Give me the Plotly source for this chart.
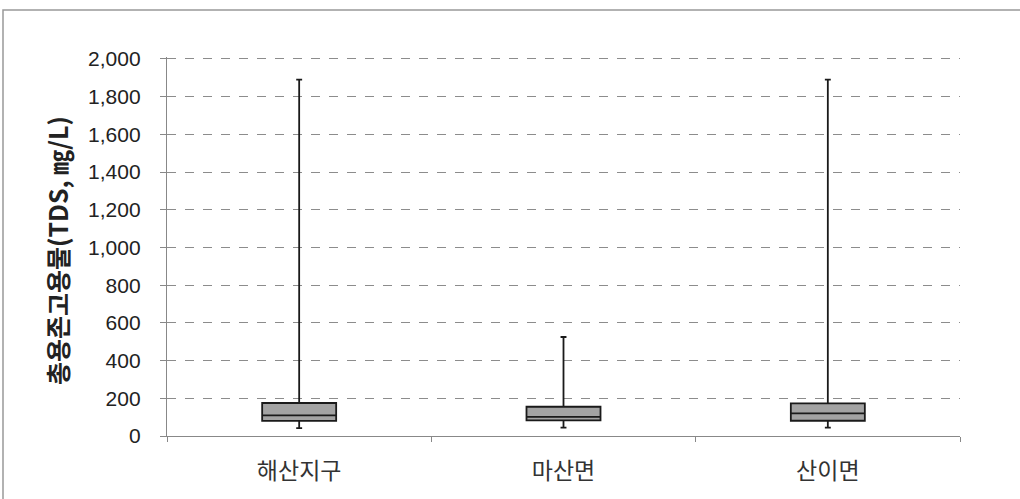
import plotly.graph_objects as go

categories = ["해산지구", "마산면", "산이면"]
q1 = [80, 83, 81]
median = [109, 101, 120]
q3 = [175, 155, 173]
lower = [42, 44, 44]
upper = [1890, 525, 1890]

y_ticks = list(range(0, 2001, 200))
y_ticklabels = [f"{v:,}" for v in y_ticks]
y_title = "총용존고용물(TDS, ㎎/L)"
y_max = 2010

fig = go.Figure()
fig.add_trace(go.Box(
    x=categories, q1=q1, median=median, q3=q3,
    lowerfence=lower, upperfence=upper,
    fillcolor="#a3a3a3",
    line=dict(color="#1a1a1a", width=1.8),
    whiskerwidth=0.08,
    boxpoints=False,
    hoverinfo="skip",
    showlegend=False,
))

W, H = 1020, 499
L, R, B = 167, 60, 63
ph = round((H - B - 59) * y_max / 2000)
T = H - B - ph
pw = W - L - R

def px_to_paper_x(p):
    return (p - L) / pw

def px_to_paper_y(p):
    return (H - B - p) / ph

fig.update_layout(
    width=W, height=H,
    margin=dict(l=L, r=R, t=T, b=B),
    paper_bgcolor="white", plot_bgcolor="white",
    boxgap=0.6,
    font=dict(family="Liberation Sans, Arial, Noto Sans CJK KR", size=20, color="#222"),
    xaxis=dict(
        type="category",
        showline=True, linecolor="#888", linewidth=1.3,
        ticks="outside", tickson="boundaries", ticklen=5, tickcolor="#888",
        showgrid=False,
        ticklabelstandoff=14,
        tickfont=dict(family="Noto Sans CJK KR", size=23, color="#333"),
    ),
    yaxis=dict(
        range=[0, y_max],
        tickvals=y_ticks, ticktext=y_ticklabels,
        showline=True, linecolor="#888", linewidth=1.3,
        ticks="outside", ticklen=6, tickcolor="#888",
        showgrid=True, gridcolor="#8c8c8c", griddash="dash", gridwidth=1,
        zeroline=False,
        ticklabelstandoff=15,
        tickfont=dict(family="Liberation Sans, Arial", size=21, color="#222"),
    ),
    annotations=[dict(
        text=f"<b>{y_title}</b>",
        xref="paper", yref="paper",
        x=px_to_paper_x(57), y=px_to_paper_y(251),
        xanchor="center", yanchor="middle",
        textangle=-90, showarrow=False,
        font=dict(family="Noto Sans CJK KR", size=25, color="#222"),
    )],
    shapes=[dict(
        type="rect", xref="paper", yref="paper",
        x0=px_to_paper_x(3), x1=px_to_paper_x(1030),
        y0=px_to_paper_y(520), y1=px_to_paper_y(10),
        line=dict(color="#999", width=1.5), fillcolor="rgba(0,0,0,0)",
        layer="below",
    )],
)

fig.write_html("out.html", config={"displayModeBar": False},
               post_script="document.body.style.margin='0px';")
